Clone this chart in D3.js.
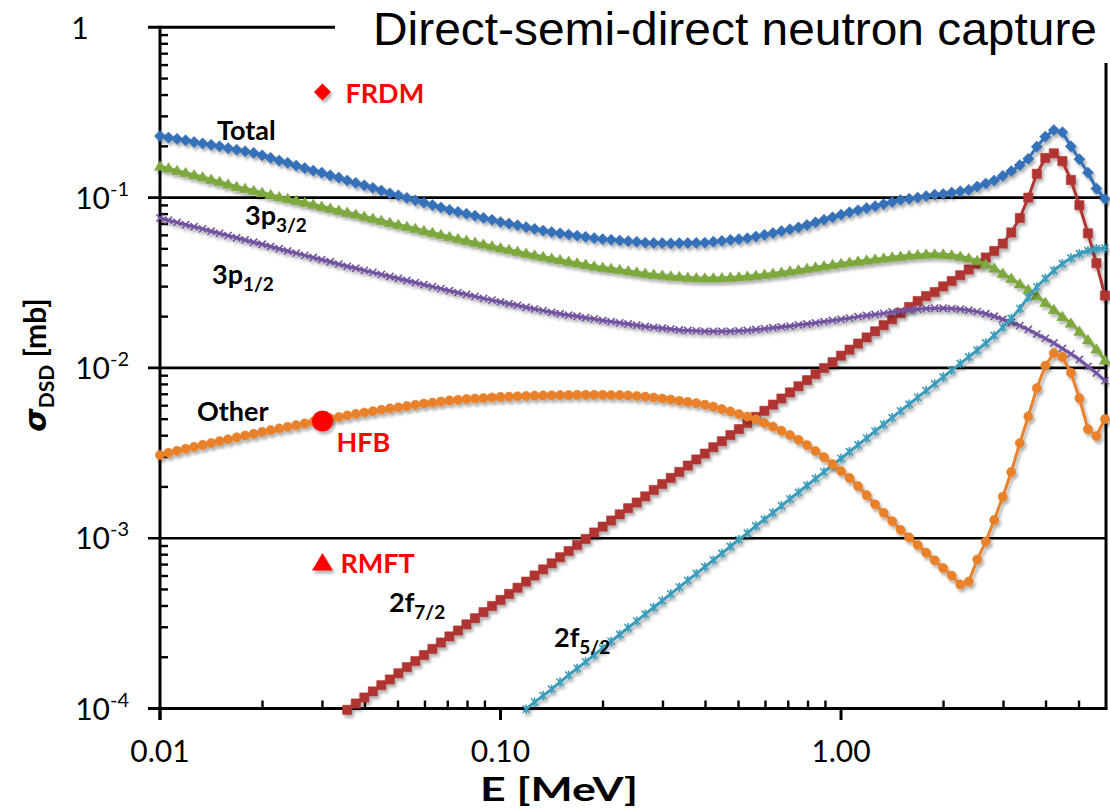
<!DOCTYPE html>
<html>
<head>
<meta charset="utf-8">
<script src="https://cdn.jsdelivr.net/npm/d3@7"></script>
<style>
  body { margin: 0; background: #fff; }
  svg { display: block; }
</style>
</head>
<body>
<svg id="chart" width="1110" height="808"></svg>
<script>
// Neutron energy grid [MeV]
const energies = [
  0.01000,0.01059,0.01122,0.01189,0.01259,0.01334,0.01413,0.01496,0.01585,0.01679,
  0.01778,0.01884,0.01995,0.02113,0.02239,0.02371,0.02512,0.02661,0.02818,0.02985,
  0.03162,0.03350,0.03548,0.03758,0.03981,0.04217,0.04467,0.04732,0.05012,0.05309,
  0.05623,0.05957,0.06310,0.06683,0.07079,0.07499,0.07943,0.08414,0.08913,0.09441,
  0.1000,0.1059,0.1122,0.1189,0.1259,0.1334,0.1413,0.1496,0.1585,0.1679,
  0.1778,0.1884,0.1995,0.2113,0.2239,0.2371,0.2512,0.2661,0.2818,0.2985,
  0.3162,0.3350,0.3548,0.3758,0.3981,0.4217,0.4467,0.4732,0.5012,0.5309,
  0.5623,0.5957,0.6310,0.6683,0.7079,0.7499,0.7943,0.8414,0.8913,0.9441,
  1.000,1.059,1.122,1.189,1.259,1.334,1.413,1.496,1.585,1.679,
  1.778,1.884,1.995,2.113,2.239,2.371,2.512,2.661,2.818,2.985,
  3.162,3.350,3.548,3.758,3.981,4.217,4.467,4.732,5.012,5.309,
  5.623,5.957
];

// Cross sections [mb]
const sigmaTotal = [
  0.230,0.225,0.221,0.217,0.212,0.208,0.204,0.200,0.195,0.191,
  0.187,0.183,0.177,0.171,0.165,0.160,0.154,0.149,0.144,0.140,
  0.135,0.131,0.126,0.122,0.118,0.114,0.110,0.106,0.103,0.0995,
  0.0964,0.0933,0.0904,0.0875,0.0847,0.0824,0.0804,0.0782,0.0760,0.0740,
  0.0719,0.0703,0.0687,0.0670,0.0655,0.0640,0.0627,0.0617,0.0607,0.0597,
  0.0588,0.0578,0.0570,0.0565,0.0560,0.0555,0.0550,0.0543,0.0541,0.0540,
  0.0538,0.0540,0.0541,0.0542,0.0543,0.0551,0.0557,0.0564,0.0570,0.0577,
  0.0590,0.0604,0.0619,0.0635,0.0652,0.0668,0.0690,0.0715,0.0740,0.0766,
  0.0793,0.0820,0.0843,0.0867,0.0891,0.0916,0.0942,0.0968,0.0984,0.100,
  0.102,0.104,0.105,0.107,0.109,0.111,0.116,0.121,0.126,0.134,
  0.143,0.155,0.169,0.199,0.228,0.249,0.242,0.200,0.168,0.140,
  0.113,0.0982
];

const sigma2f72 = [
  null,null,null,null,null,null,null,null,null,null,
  null,null,null,null,null,null,null,null,null,null,
  null,null,9.82e-5,1.07e-4,1.16e-4,1.26e-4,1.37e-4,1.48e-4,1.61e-4,1.75e-4,
  1.90e-4,2.06e-4,2.24e-4,2.44e-4,2.65e-4,2.87e-4,3.12e-4,3.39e-4,3.68e-4,4.00e-4,
  4.34e-4,4.71e-4,5.12e-4,5.56e-4,6.04e-4,6.56e-4,7.12e-4,7.73e-4,8.40e-4,9.12e-4,
  9.90e-4,1.08e-3,1.17e-3,1.27e-3,1.38e-3,1.50e-3,1.62e-3,1.76e-3,1.92e-3,2.08e-3,
  2.26e-3,2.45e-3,2.67e-3,2.90e-3,3.14e-3,3.42e-3,3.71e-3,4.03e-3,4.37e-3,4.75e-3,
  5.16e-3,5.60e-3,6.09e-3,6.61e-3,7.18e-3,7.80e-3,8.47e-3,9.19e-3,9.98e-3,0.0108,
  0.0118,0.0128,0.0139,0.0151,0.0164,0.0178,0.0193,0.0210,0.0228,0.0247,
  0.0264,0.0279,0.0301,0.0324,0.0350,0.0378,0.0409,0.0445,0.0486,0.0537,
  0.0624,0.0759,0.100,0.138,0.171,0.182,0.164,0.127,0.0902,0.0617,
  0.0412,0.0266
];

const sigma3p32 = [
  0.153,0.149,0.144,0.140,0.136,0.132,0.128,0.124,0.120,0.116,
  0.113,0.110,0.107,0.104,0.101,0.0986,0.0962,0.0935,0.0912,0.0887,
  0.0865,0.0841,0.0818,0.0798,0.0776,0.0755,0.0733,0.0713,0.0693,0.0676,
  0.0658,0.0640,0.0622,0.0605,0.0589,0.0574,0.0560,0.0546,0.0532,0.0519,
  0.0506,0.0494,0.0483,0.0471,0.0460,0.0450,0.0440,0.0431,0.0422,0.0413,
  0.0405,0.0396,0.0389,0.0383,0.0377,0.0371,0.0365,0.0359,0.0354,0.0350,
  0.0346,0.0343,0.0340,0.0338,0.0337,0.0337,0.0338,0.0340,0.0342,0.0345,
  0.0349,0.0354,0.0359,0.0364,0.0370,0.0376,0.0383,0.0390,0.0397,0.0404,
  0.0410,0.0417,0.0423,0.0429,0.0435,0.0441,0.0447,0.0452,0.0457,0.0461,
  0.0465,0.0466,0.0465,0.0460,0.0452,0.0441,0.0426,0.0406,0.0385,0.0359,
  0.0335,0.0311,0.0288,0.0265,0.0242,0.0220,0.0200,0.0183,0.0164,0.0146,
  0.0129,0.0111
];

const sigma3p12 = [
  0.0759,0.0736,0.0715,0.0693,0.0675,0.0655,0.0635,0.0617,0.0598,0.0581,
  0.0564,0.0547,0.0532,0.0516,0.0501,0.0486,0.0472,0.0458,0.0445,0.0432,
  0.0420,0.0407,0.0395,0.0385,0.0374,0.0364,0.0354,0.0344,0.0335,0.0326,
  0.0317,0.0308,0.0300,0.0292,0.0284,0.0277,0.0270,0.0263,0.0256,0.0250,
  0.0244,0.0238,0.0233,0.0227,0.0222,0.0217,0.0212,0.0208,0.0204,0.0201,
  0.0197,0.0194,0.0190,0.0187,0.0184,0.0181,0.0178,0.0175,0.0173,0.0171,
  0.0169,0.0167,0.0166,0.0165,0.0164,0.0164,0.0164,0.0164,0.0165,0.0166,
  0.0168,0.0170,0.0172,0.0174,0.0176,0.0179,0.0181,0.0184,0.0187,0.0190,
  0.0193,0.0196,0.0200,0.0203,0.0206,0.0209,0.0213,0.0216,0.0219,0.0221,
  0.0223,0.0224,0.0224,0.0223,0.0221,0.0218,0.0214,0.0208,0.0201,0.0193,
  0.0185,0.0177,0.0168,0.0158,0.0149,0.0140,0.0130,0.0121,0.0112,0.0102,
  0.00933,0.00841
];

const sigma2f52 = [
  null,null,null,null,null,null,null,null,null,null,
  null,null,null,null,null,null,null,null,null,null,
  null,null,null,null,null,null,null,null,null,null,
  null,null,null,null,null,null,null,null,null,null,
  null,null,null,9.91e-5,1.09e-4,1.19e-4,1.30e-4,1.43e-4,1.57e-4,1.72e-4,
  1.88e-4,2.06e-4,2.26e-4,2.48e-4,2.72e-4,2.98e-4,3.26e-4,3.58e-4,3.92e-4,4.29e-4,
  4.71e-4,5.16e-4,5.65e-4,6.19e-4,6.79e-4,7.44e-4,8.15e-4,8.94e-4,9.80e-4,1.07e-3,
  1.18e-3,1.29e-3,1.41e-3,1.55e-3,1.70e-3,1.86e-3,2.04e-3,2.24e-3,2.45e-3,2.69e-3,
  2.94e-3,3.22e-3,3.53e-3,3.87e-3,4.25e-3,4.65e-3,5.10e-3,5.59e-3,6.12e-3,6.71e-3,
  7.36e-3,8.06e-3,8.84e-3,9.68e-3,0.0106,0.0116,0.0127,0.0140,0.0155,0.0173,
  0.0195,0.0223,0.0260,0.0299,0.0335,0.0373,0.0409,0.0442,0.0468,0.0488,
  0.0501,0.0505
];

const sigmaOther = [
  3.08e-3,3.17e-3,3.26e-3,3.35e-3,3.44e-3,3.53e-3,3.62e-3,3.72e-3,3.81e-3,3.91e-3,
  4.01e-3,4.10e-3,4.21e-3,4.31e-3,4.41e-3,4.51e-3,4.61e-3,4.72e-3,4.83e-3,4.94e-3,
  5.05e-3,5.15e-3,5.26e-3,5.37e-3,5.47e-3,5.57e-3,5.68e-3,5.78e-3,5.87e-3,5.97e-3,
  6.07e-3,6.17e-3,6.25e-3,6.34e-3,6.44e-3,6.50e-3,6.56e-3,6.61e-3,6.65e-3,6.70e-3,
  6.75e-3,6.78e-3,6.81e-3,6.84e-3,6.87e-3,6.89e-3,6.90e-3,6.92e-3,6.93e-3,6.95e-3,
  6.95e-3,6.95e-3,6.95e-3,6.93e-3,6.92e-3,6.89e-3,6.84e-3,6.78e-3,6.70e-3,6.61e-3,
  6.52e-3,6.41e-3,6.31e-3,6.21e-3,6.08e-3,5.92e-3,5.73e-3,5.55e-3,5.36e-3,5.18e-3,
  4.98e-3,4.75e-3,4.52e-3,4.28e-3,4.03e-3,3.78e-3,3.52e-3,3.25e-3,2.99e-3,2.72e-3,
  2.48e-3,2.26e-3,2.02e-3,1.79e-3,1.58e-3,1.41e-3,1.26e-3,1.12e-3,1.01e-3,9.12e-4,
  8.22e-4,7.41e-4,6.68e-4,6.03e-4,5.35e-4,5.56e-4,7.50e-4,9.55e-4,1.28e-3,1.75e-3,
  2.45e-3,3.62e-3,5.19e-3,7.60e-3,0.0103,0.0122,0.0116,9.38e-3,6.64e-3,4.37e-3,
  3.98e-3,5.01e-3
];

// Model predictions at E = 30 keV
const modelNames  = ["FRDM", "HFB", "RMFT"];
const modelEnergy = [0.03, 0.03, 0.03];
const modelSigma  = [0.417, 4.88e-3, 7.15e-4];

// Axis tick labels
const xTickValues = [0.01, 0.1, 1];
const xTickLabels = ["0.01", "0.10", "1.00"];
const yDecades    = [1e-4, 1e-3, 1e-2, 1e-1, 1];
const yExponents  = ["-4", "-3", "-2", "-1", ""];

// ---------------------------------------------------------------
const svg = d3.select("#chart");
const x = d3.scaleLog().domain([0.01, 6]).range([160, 1106]);
const y = d3.scaleLog().domain([1e-4, 1]).range([708.5, 27.3]);

const defs = svg.append("defs");
const shadow = defs.append("filter").attr("id", "shadow")
  .attr("x", "-10%").attr("y", "-10%").attr("width", "120%").attr("height", "130%");
shadow.append("feDropShadow").attr("dx", 2).attr("dy", 3)
  .attr("stdDeviation", 1.6).attr("flood-color", "#000").attr("flood-opacity", 0.3);

const FONT = "Lato, 'Open Sans', sans-serif";

// ----- frame, grid lines and ticks
const frame = svg.append("g").attr("stroke", "#000").attr("fill", "none");
const xL = 148, xR = x.range()[1], yB = y(1e-4), yT = y(1);

// horizontal decade lines
[1e-3, 1e-2, 1e-1].forEach(v => {
  frame.append("line").attr("x1", xL).attr("x2", xR).attr("y1", y(v)).attr("y2", y(v))
    .attr("stroke-width", 2.6);
});
// top line (partial, stops short of the title)
frame.append("line").attr("x1", xL).attr("x2", 335).attr("y1", yT).attr("y2", yT).attr("stroke-width", 3);
// bottom axis
frame.append("line").attr("x1", xL).attr("x2", xR + 1.5).attr("y1", yB).attr("y2", yB).attr("stroke-width", 3);
// left axis
frame.append("line").attr("x1", 160).attr("x2", 160).attr("y1", yT - 1.5).attr("y2", 720).attr("stroke-width", 3);
// right edge
frame.append("line").attr("x1", xR).attr("x2", xR).attr("y1", 63).attr("y2", yB).attr("stroke-width", 3);

// y minor ticks (inside)
yDecades.slice(0, -1).forEach(d => {
  for (let m = 2; m <= 9; m++) {
    const yy = y(d * m);
    frame.append("line").attr("x1", 160).attr("x2", 168).attr("y1", yy).attr("y2", yy).attr("stroke-width", 2.4);
  }
});
// x major ticks (outside) and minor ticks (inside)
xTickValues.forEach(d => {
  frame.append("line").attr("x1", x(d)).attr("x2", x(d)).attr("y1", yB).attr("y2", 720).attr("stroke-width", 3);
  for (let m = 2; m <= 9; m++) {
    const v = d * m;
    if (v >= 6) break;
    frame.append("line").attr("x1", x(v)).attr("x2", x(v)).attr("y1", yB).attr("y2", yB - 8).attr("stroke-width", 2.4);
  }
});

// ----- tick labels
const yLab = svg.append("g").attr("font-family", FONT).attr("fill", "#000");
yDecades.forEach((d, i) => {
  if (yExponents[i] === "") {
    yLab.append("text").attr("x", 80).attr("y", y(d) + 12).attr("text-anchor", "middle")
      .attr("font-size", 30).text("1");
  } else {
    const t = yLab.append("text").attr("x", 129).attr("y", y(d) + 11).attr("text-anchor", "end")
      .attr("font-size", 30);
    t.append("tspan").text("10");
    t.append("tspan").attr("dy", -13).attr("font-size", 20).text(yExponents[i]);
  }
});
const xLab = svg.append("g").attr("font-family", FONT).attr("fill", "#000");
xTickValues.forEach((d, i) => {
  xLab.append("text").attr("x", x(d)).attr("y", 761.5).attr("text-anchor", "middle")
    .attr("font-size", 30).text(xTickLabels[i]);
});

// ----- axis titles
svg.append("text").attr("x", 559).attr("y", 800.5).attr("text-anchor", "middle")
  .attr("font-family", FONT).attr("font-weight", "bold").attr("font-size", 33)
  .attr("textLength", 158).attr("lengthAdjust", "spacingAndGlyphs").text("E [MeV]");
const yTitle = svg.append("text").attr("transform", "translate(46,365) rotate(-90)")
  .attr("text-anchor", "middle").attr("font-family", FONT).attr("font-weight", "bold").attr("font-size", 30);
yTitle.append("tspan").attr("font-style", "italic").attr("font-family", "'DejaVu Sans', sans-serif").text("σ");
yTitle.append("tspan").attr("font-size", 21).attr("dy", 8).text("DSD");
yTitle.append("tspan").attr("dy", -8).text(" [mb]");

// ----- title
svg.append("text").attr("x", 373).attr("y", 45)
  .attr("font-family", "'Liberation Sans', Arial, sans-serif").attr("font-size", 46)
  .attr("textLength", 724).attr("lengthAdjust", "spacingAndGlyphs")
  .text("Direct-semi-direct neutron capture");

// ----- series
const markers = {
  diamond:  r => `M0,${-r}L${r},0L0,${r}L${-r},0Z`,
  square:   r => `M${-r},${-r}H${r}V${r}H${-r}Z`,
  triangle: r => `M0,${-r}L${r * 1.05},${r * 0.75}L${-r * 1.05},${r * 0.75}Z`,
  cross:    r => `M${-r},${-r}L${r},${r}M${-r},${r}L${r},${-r}`,
  star:     r => `M${-r},${-r}L${r},${r}M${-r},${r}L${r},${-r}M0,${-r * 1.3}V${r * 1.3}`,
  circle:   r => `M${r},0A${r},${r} 0 1,1 ${-r},0A${r},${r} 0 1,1 ${r},0Z`
};

const series = [
  { name: "Total", values: sigmaTotal, color: "#3571B8", marker: "diamond",  r: 5.6, stroke: false },
  { name: "2f7/2", values: sigma2f72,  color: "#B03633", marker: "square",   r: 4.6, stroke: false },
  { name: "3p3/2", values: sigma3p32,  color: "#7CA83E", marker: "triangle", r: 5.4, stroke: false },
  { name: "3p1/2", values: sigma3p12,  color: "#7352A0", marker: "cross",    r: 3.6, stroke: true  },
  { name: "2f5/2", values: sigma2f52,  color: "#3A9CBC", marker: "star",     r: 3.6, stroke: true  },
  { name: "Other", values: sigmaOther, color: "#E8812C", marker: "circle",   r: 4.6, stroke: false }
];

const line = d3.line()
  .defined(d => d[1] != null)
  .x(d => x(d[0])).y(d => y(d[1]));

const plot = svg.append("g");
series.forEach(s => {
  const pts = energies.map((e, i) => [e, s.values[i]]);
  const g = plot.append("g").attr("filter", "url(#shadow)");
  g.append("path").datum(pts).attr("d", line)
    .attr("fill", "none").attr("stroke", s.color).attr("stroke-width", 3)
    .attr("stroke-linejoin", "round");
  g.selectAll("path.m").data(pts.filter(d => d[1] != null)).join("path")
    .attr("class", "m")
    .attr("transform", d => `translate(${x(d[0])},${y(d[1])})`)
    .attr("d", markers[s.marker](s.r))
    .attr("fill", s.stroke ? "none" : s.color)
    .attr("stroke", s.color)
    .attr("stroke-width", s.stroke ? 1.6 : 0.6);
});

// ----- curve labels
const lab = svg.append("g").attr("font-family", FONT).attr("font-weight", "bold").attr("fill", "#000");
function label(px, py, main, sub) {
  const t = lab.append("text").attr("x", px).attr("y", py).attr("font-size", 27);
  t.append("tspan").text(main);
  if (sub) t.append("tspan").attr("font-size", 19).attr("dy", 7).text(sub);
}
label(217, 140, "Total");
label(245, 225, "3p", "3/2");
label(212, 284, "3p", "1/2");
label(197, 421, "Other");
label(389, 612, "2f", "7/2");
label(554, 647, "2f", "5/2");

// ----- model points at 30 keV
const mg = svg.append("g").attr("filter", "url(#shadow)");
const modelShapes = [markers.diamond(8.5), markers.circle(10.5), markers.triangle(10)];
modelNames.forEach((n, i) => {
  mg.append("path")
    .attr("transform", `translate(${x(modelEnergy[i])},${y(modelSigma[i])})`)
    .attr("d", modelShapes[i]).attr("fill", "#FF0000");
});
const mLab = svg.append("g").attr("font-family", FONT).attr("font-weight", "bold")
  .attr("font-size", 27).attr("fill", "#FF0000");
const labelOffsets = [[23, 11], [14, 31], [18, 10]];
modelNames.forEach((n, i) => {
  mLab.append("text")
    .attr("x", x(modelEnergy[i]) + labelOffsets[i][0])
    .attr("y", y(modelSigma[i]) + labelOffsets[i][1])
    .text(n);
});
</script>
</body>
</html>
